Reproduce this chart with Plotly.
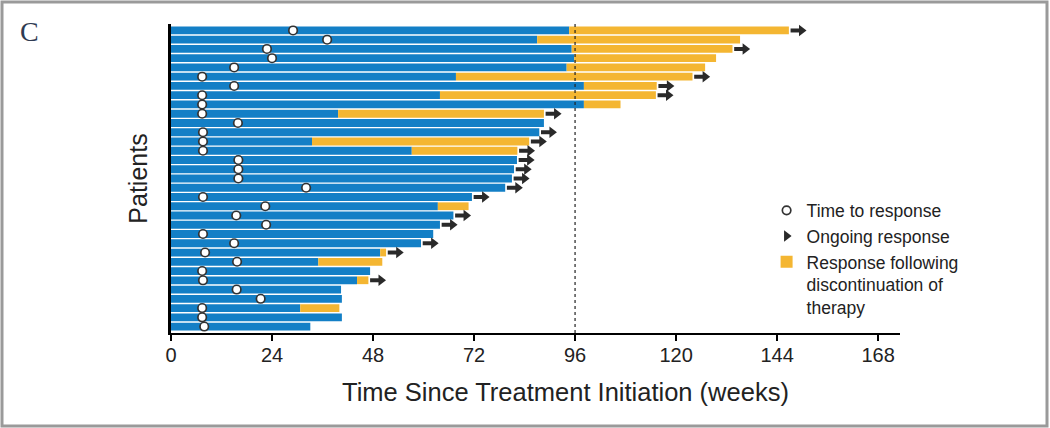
# Swimmer plot: time on treatment / response per patient.
import plotly.graph_objects as go

# ---- data (weeks), patients listed top to bottom ----
patients = list(range(1, 34))
response_wk = [29.0, 37.1, 22.8, 24.0, 15.0, 7.4, 15.0, 7.4, 7.4, 7.4, 15.9,
               7.6, 7.6, 7.6, 16.0, 16.0, 16.0, 32.1, 7.6, 22.4, 15.5, 22.6,
               7.6, 15.0, 8.1, 15.7, 7.4, 7.6, 15.6, 21.3, 7.4, 7.4, 7.9]
on_therapy_wk = [94.6, 87.0, 95.2, 95.8, 94.0, 67.7, 98.1, 63.9, 98.1, 39.7, 88.6,
                 87.5, 33.5, 57.2, 82.2, 81.5, 81.0, 79.4, 71.5, 63.4, 67.1, 63.9,
                 62.3, 59.4, 49.7, 35.0, 47.3, 44.2, 40.4, 40.6, 30.7, 40.6, 33.1]
# end of response after stopping therapy (None = no off-therapy response)
off_therapy_end_wk = [146.8, 135.2, 133.4, 129.5, 126.9, 123.9, 115.4, 115.2, 106.8, 88.6, None,
                      None, 85.1, 82.3, None, None, None, None, None, 70.7, None, None,
                      None, None, 51.1, 50.2, None, 46.9, None, None, 40.0, None, None]
ongoing = [1, 0, 1, 0, 0, 1, 1, 1, 0, 1, 0,
           1, 1, 1, 1, 1, 1, 1, 1, 0, 1, 1,
           0, 1, 1, 0, 0, 1, 0, 0, 0, 0, 0]
x_ticks = [0, 24, 48, 72, 96, 120, 144, 168]
cutoff_wk = 96

BLUE = '#137fc6'
ORANGE = '#f4b632'
DARK = '#2a2a2a'
FONT = 'Liberation Sans, Arial, sans-serif'

fig = go.Figure()

# blue: on therapy
fig.add_trace(go.Bar(
    y=patients, x=on_therapy_wk, orientation='h', width=0.84,
    marker=dict(color=BLUE, line=dict(width=0)),
    showlegend=False, hoverinfo='skip'
))

# orange: response after discontinuation
orange_y = [p for p, e in zip(patients, off_therapy_end_wk) if e is not None]
orange_base = [b for b, e in zip(on_therapy_wk, off_therapy_end_wk) if e is not None]
orange_len = [e - b for b, e in zip(on_therapy_wk, off_therapy_end_wk) if e is not None]

# ends of bars, for arrows
bar_end = [e if e is not None else b for b, e in zip(on_therapy_wk, off_therapy_end_wk)]
shaft_x, shaft_y, head_x, head_y = [], [], [], []
for p, end, flag in zip(patients, bar_end, ongoing):
    if flag:
        shaft_x += [end + 0.4, end + 2.6, None]
        shaft_y += [p, p, None]
        head_x.append(end + 3.0)
        head_y.append(p)

# circles: time to response
fig.add_trace(go.Scatter(
    x=response_wk, y=patients, mode='markers', name='Time to response',
    marker=dict(symbol='circle', size=8.5, color='white', line=dict(color='#333333', width=1.7)),
    hoverinfo='skip'
))

fig.add_trace(go.Scatter(
    x=shaft_x, y=shaft_y, mode='lines', line=dict(color=DARK, width=4),
    showlegend=False, hoverinfo='skip', legendgroup='arrow'
))
fig.add_trace(go.Scatter(
    x=head_x, y=head_y, mode='markers', name='Ongoing response', legendgroup='arrow',
    marker=dict(symbol='triangle-right', size=10, color=DARK),
    hoverinfo='skip'
))

fig.add_trace(go.Bar(
    y=orange_y, x=orange_len, base=orange_base, orientation='h', width=0.84,
    marker=dict(color=ORANGE, line=dict(width=0)),
    name='Response following<br>discontinuation of<br>therapy', hoverinfo='skip'
))

fig.update_layout(
    width=1050, height=428,
    margin=dict(l=171, r=150, t=24, b=95),
    paper_bgcolor='white', plot_bgcolor='white',
    barmode='overlay',
    font=dict(family=FONT, color='#222222'),
    legend=dict(
        x=0.817, y=0.455, xanchor='left', yanchor='top',
        font=dict(size=17.5, color='#222222'), bgcolor='rgba(0,0,0,0)',
        traceorder='normal', itemwidth=30, valign='top', tracegroupgap=0
    ),
    xaxis=dict(
        range=[0, 173.2], tickvals=x_ticks, showgrid=False, zeroline=False,
        showline=True, linecolor='black', linewidth=2,
        ticks='outside', ticklen=6, tickwidth=1.5, tickcolor='black',
        tickfont=dict(size=20, color='#222222'), ticklabelstandoff=-3
    ),
    yaxis=dict(
        range=[33.7, 0.3], showticklabels=False, showgrid=False, zeroline=False,
        showline=True, linecolor='black', linewidth=2.5, ticks='',
        title=dict(text='Patients', font=dict(size=25, color='#222222'), standoff=14)
    ),
    shapes=[
        dict(type='line', xref='x', yref='paper', x0=cutoff_wk, x1=cutoff_wk, y0=0, y1=1,
             line=dict(color='#222222', width=1.2, dash='3px,3px')),
        # frame round the whole figure
        dict(type='rect', xref='paper', yref='paper',
             x0=(2 - 171) / 729, x1=(1047 - 171) / 729,
             y0=(333 - 426) / 309, y1=(333 - 2) / 309,
             line=dict(color='#9a9a9a', width=3), fillcolor='rgba(0,0,0,0)', layer='below')
    ],
    annotations=[
        dict(text='C', xref='paper', yref='paper', x=(18 - 171) / 729, y=(333 - 14) / 309,
             xanchor='left', yanchor='top', showarrow=False,
             font=dict(family='Liberation Serif, Times New Roman, serif', size=28, color='#2f3b52')),
        # x axis title sits right of centre in the original
        dict(text='Time Since Treatment Initiation (weeks)', xref='paper', yref='paper',
             x=(565 - 171) / 729, y=(333 - 392) / 309, xanchor='center', yanchor='middle',
             showarrow=False, font=dict(size=25.5, color='#222222'))
    ]
)

# drop the browser's default 8px body margin so the figure sits at the page corner
fig.write_html('out.html', config={'displayModeBar': False},
               post_script="document.body.style.margin='0';")
